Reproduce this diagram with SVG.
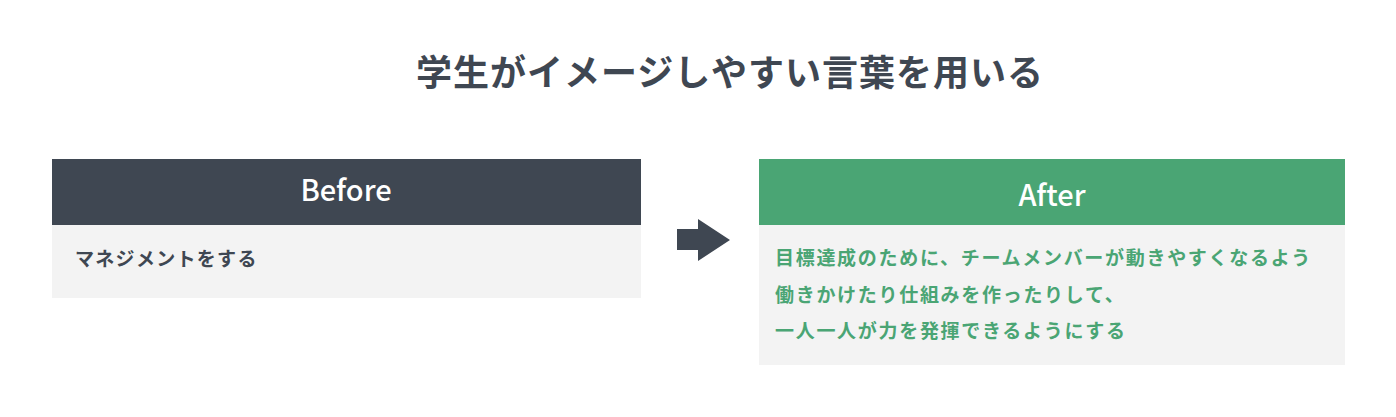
<svg xmlns="http://www.w3.org/2000/svg" width="1396" height="417" viewBox="0 0 1396 417">
<style>
text{font-family:"Noto Sans CJK JP","Noto Sans",sans-serif;font-weight:bold}
.title{font-size:36px;fill:#3f4752;text-anchor:middle}
.hd{font-size:29px;fill:#ffffff;text-anchor:middle;font-weight:500}
.body{fill:#f3f3f3}
.t1{font-size:19px;fill:#3f4752;letter-spacing:1.3px}
.t2{font-size:19px;fill:#4aa574;letter-spacing:1.7px}
</style>
<rect width="1396" height="417" fill="#ffffff"/>
<text class="title" x="730" y="86" letter-spacing="1">学生がイメージしやすい言葉を用いる</text>
<g id="before">
<rect x="52" y="159" width="589" height="66" fill="#3f4752"/>
<rect class="body" x="52" y="225" width="589" height="73"/>
<text class="hd" x="346" y="201">Before</text>
<text class="t1" x="75" y="266">マネジメントをする</text>
</g>
<g id="after">
<rect x="759" y="159" width="586" height="66" fill="#4aa574"/>
<rect class="body" x="759" y="225" width="586" height="140"/>
<text class="hd" x="1052" y="206">After</text>
<text class="t2" x="775" y="265">目標達成のために、チームメンバーが動きやすくなるよう</text>
<text class="t2" x="775" y="302">働きかけたり仕組みを作ったりして、</text>
<text class="t2" x="775" y="338">一人一人が力を発揮できるようにする</text>
</g>
<g id="connectors">
<polygon points="677,229 698,229 698,219 730,240 698,261 698,250 677,250" fill="#3f4752"/>
</g>
</svg>
